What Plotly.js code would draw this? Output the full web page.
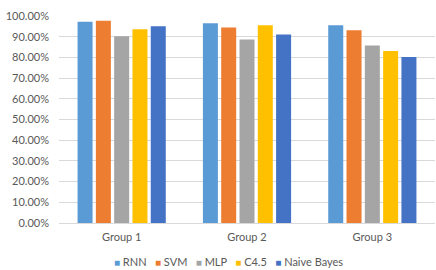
<!DOCTYPE html>
<html>
<head>
<meta charset="utf-8">
<script src="https://cdn.plot.ly/plotly-3.0.1.min.js"></script>
<style>html,body{margin:0;padding:0;background:#fff;}#chart{width:436px;height:270px;}</style>
</head>
<body>
<div id="chart"></div>
<script>
var categories = ["Group 1", "Group 2", "Group 3"];
var seriesNames = ["RNN", "SVM", "MLP", "C4.5", "Naive Bayes"];
var rnn = [0.972, 0.965, 0.955];
var svm = [0.977, 0.945, 0.931];
var mlp = [0.902, 0.887, 0.858];
var c45 = [0.936, 0.955, 0.831];
var naiveBayes = [0.950, 0.911, 0.802];
var colors = ["#5B9BD5", "#ED7D31", "#A5A5A5", "#FFC000", "#4472C4"];

var values = [rnn, svm, mlp, c45, naiveBayes];
var font = "Lato, Open Sans, Liberation Sans, sans-serif";
var traces = seriesNames.map(function (n, i) {
  return {type: "bar", name: n, x: categories, y: values[i],
          marker: {color: colors[i]}, hovertemplate: "%{y:.2%}"};
});

var legendText = seriesNames.map(function (n, i) {
  return '<span style="color:' + colors[i] + ';font-size:10px">■</span> ' + n;
}).join('&nbsp;&nbsp;&nbsp;');

var layout = {
  width: 436, height: 270,
  margin: {l: 59, r: 1, t: 16, b: 47},
  paper_bgcolor: "#fff", plot_bgcolor: "#fff",
  showlegend: false,
  barmode: "group", bargap: 0.27, bargroupgap: 0.18,
  font: {family: font, size: 11, color: "#595959"},
  xaxis: {showline: false, showgrid: false, zeroline: false, ticks: "",
          tickfont: {size: 11, color: "#595959"}, ticklabelstandoff: 6},
  yaxis: {range: [0, 1.0], dtick: 0.1, tickformat: ".2%", showgrid: true,
          gridcolor: "#D9D9D9", gridwidth: 1, zeroline: true, zerolinecolor: "#D9D9D9",
          showline: false, ticks: "", ticklabelstandoff: 9,
          tickfont: {size: 11, color: "#595959"}},
  annotations: [{xref: "paper", yref: "paper", x: (228 - 59) / 376, y: -0.184,
    xanchor: "center", yanchor: "middle", showarrow: false, text: legendText,
    font: {family: font, size: 11, color: "#595959"}}]
};
Plotly.newPlot("chart", traces, layout, {displayModeBar: false, staticPlot: true});
</script>
</body>
</html>
